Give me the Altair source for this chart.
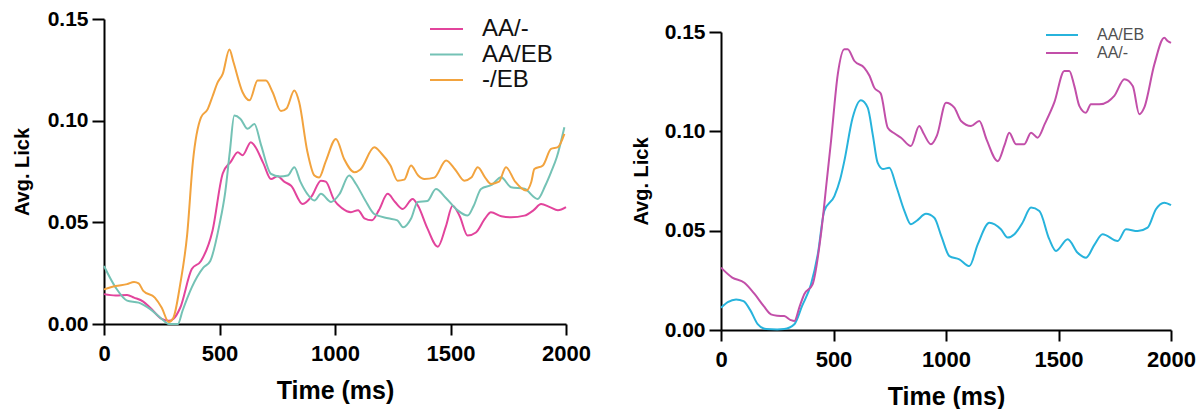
import altair as alt
import pandas as pd

FONT = "Liberation Sans"

# ---------------- Left panel data ----------------
left_names = ["AA/-", "AA/EB", "-/EB"]
left_colors = ["#E2449C", "#74C2B5", "#F2A33E"]

l_aa_t = [0, 50, 100, 130, 170, 200, 250, 280, 300, 330, 380, 420, 470, 514, 550, 579, 600, 636, 650, 690,
          723, 752, 780, 810, 860, 900, 939, 960, 996, 1030, 1069, 1100, 1127, 1160, 1190, 1228, 1260, 1293,
          1336, 1360, 1400, 1445, 1480, 1509, 1540, 1574, 1610, 1650, 1675, 1720, 1762, 1820, 1860, 1892,
          1930, 1965, 2000]
l_aa_v = [0.0147, 0.0140, 0.0143, 0.0130, 0.0110, 0.0080, 0.0025, 0.0016, 0.0025, 0.0080, 0.0270, 0.0310,
          0.0460, 0.0740, 0.0800, 0.0845, 0.0830, 0.0894, 0.0880, 0.0790, 0.0713, 0.0727, 0.0700, 0.0680,
          0.0590, 0.0630, 0.0705, 0.0700, 0.0610, 0.0570, 0.0550, 0.0560, 0.0520, 0.0510, 0.0560, 0.0640,
          0.0600, 0.0566, 0.0615, 0.0580, 0.0470, 0.0380, 0.0480, 0.0582, 0.0530, 0.0435, 0.0450, 0.0520,
          0.0550, 0.0530, 0.0525, 0.0533, 0.0560, 0.0590, 0.0575, 0.0560, 0.0575]

l_aaeb_t = [0, 50, 100, 150, 200, 250, 280, 320, 340, 380, 430, 460, 500, 525, 545, 564, 590, 622, 651, 680,
            723, 760, 795, 824, 850, 880, 911, 939, 983, 1020, 1061, 1090, 1130, 1170, 1230, 1270, 1295, 1330,
            1358, 1400, 1437, 1480, 1530, 1574, 1600, 1632, 1680, 1719, 1762, 1820, 1877, 1910, 1935, 1960,
            1993]
l_aaeb_v = [0.0285, 0.0180, 0.0115, 0.0105, 0.0073, 0.0025, 0.0000, 0.0000, 0.0065, 0.0180, 0.0277, 0.0310,
            0.0490, 0.0650, 0.0850, 0.1025, 0.1010, 0.0960, 0.0984, 0.0880, 0.0738, 0.0725, 0.0730, 0.0771,
            0.0700, 0.0640, 0.0607, 0.0640, 0.0600, 0.0640, 0.0730, 0.0690, 0.0610, 0.0541, 0.0520, 0.0510,
            0.0476, 0.0520, 0.0600, 0.0605, 0.0664, 0.0620, 0.0560, 0.0533, 0.0580, 0.0664, 0.0685, 0.0722,
            0.0673, 0.0665, 0.0615, 0.0680, 0.0746, 0.0820, 0.0968]

l_eb_t = [0, 50, 100, 130, 150, 170, 220, 250, 280, 300, 330, 360, 385, 420, 449, 470, 492, 514, 543, 560,
          600, 630, 665, 701, 730, 766, 790, 824, 845, 880, 911, 931, 960, 1004, 1040, 1084, 1110, 1170, 1200,
          1240, 1271, 1300, 1329, 1360, 1387, 1430, 1481, 1520, 1560, 1590, 1618, 1650, 1675, 1710, 1740,
          1780, 1827, 1850, 1863, 1900, 1935, 1965, 1993]
l_eb_v = [0.0170, 0.0187, 0.0196, 0.0207, 0.0200, 0.0163, 0.0130, 0.0080, 0.0010, 0.0030, 0.0196, 0.0440,
          0.0800, 0.1016, 0.1057, 0.1120, 0.1188, 0.1230, 0.1350, 0.1290, 0.1140, 0.1100, 0.1197, 0.1197,
          0.1140, 0.1047, 0.1060, 0.1148, 0.1090, 0.0850, 0.0730, 0.0720, 0.0800, 0.0910, 0.0810, 0.0746,
          0.0760, 0.0869, 0.0840, 0.0780, 0.0705, 0.0710, 0.0779, 0.0730, 0.0713, 0.0720, 0.0804, 0.0760,
          0.0705, 0.0720, 0.0771, 0.0720, 0.0689, 0.0700, 0.0771, 0.0700, 0.0656, 0.0700, 0.0762, 0.0780,
          0.0861, 0.0870, 0.0935]

# ---------------- Right panel data ----------------
right_names = ["AA/EB", "AA/-"]
right_colors = ["#27B3DC", "#C24FA9"]

r_aaeb_t = [0, 30, 67, 100, 130, 163, 200, 250, 281, 326, 360, 400, 430, 459, 504, 530, 548, 585, 622, 652,
            675, 696, 720, 748, 780, 815, 844, 870, 911, 948, 980, 1015, 1059, 1104, 1141, 1193, 1244, 1274,
            1304, 1340, 1378, 1415, 1459, 1489, 1541, 1585, 1622, 1660, 1696, 1763, 1800, 1852, 1896, 1933,
            1970, 2000]
r_aaeb_v = [0.0112, 0.0140, 0.0154, 0.0145, 0.0100, 0.0030, 0.0005, 0.0003, 0.0005, 0.0029, 0.0120, 0.0230,
            0.0380, 0.0599, 0.0674, 0.0760, 0.0850, 0.1068, 0.1156, 0.1119, 0.0980, 0.0842, 0.0810, 0.0817,
            0.0720, 0.0600, 0.0532, 0.0550, 0.0585, 0.0565, 0.0470, 0.0372, 0.0356, 0.0322, 0.0431, 0.0540,
            0.0507, 0.0465, 0.0482, 0.0540, 0.0616, 0.0599, 0.0457, 0.0398, 0.0457, 0.0389, 0.0364, 0.0430,
            0.0482, 0.0448, 0.0507, 0.0498, 0.0515, 0.0608, 0.0641, 0.0628]

r_aa_t = [0, 50, 104, 150, 190, 222, 250, 281, 310, 326, 350, 370, 407, 444, 470, 489, 519, 548, 563, 593,
          637, 660, 681, 710, 741, 770, 800, 844, 881, 900, 933, 960, 1000, 1037, 1067, 1111, 1148, 1180,
          1230, 1260, 1281, 1311, 1348, 1378, 1407, 1440, 1481, 1526, 1548, 1570, 1593, 1622, 1644, 1681,
          1720, 1748, 1793, 1830, 1859, 1881, 1926, 1970, 1985, 2000]
r_aa_v = [0.0314, 0.0264, 0.0238, 0.0180, 0.0120, 0.0079, 0.0072, 0.0070, 0.0050, 0.0045, 0.0120, 0.0180,
          0.0230, 0.0480, 0.0750, 0.0951, 0.1287, 0.1413, 0.1413, 0.1354, 0.1320, 0.1280, 0.1220, 0.1190,
          0.1018, 0.0990, 0.0968, 0.0926, 0.1027, 0.0990, 0.0935, 0.0980, 0.1144, 0.1119, 0.1052, 0.1027,
          0.1052, 0.0960, 0.0850, 0.0930, 0.0993, 0.0935, 0.0935, 0.0993, 0.0968, 0.1040, 0.1144, 0.1304,
          0.1304, 0.1230, 0.1127, 0.1094, 0.1136, 0.1136, 0.1150, 0.1178, 0.1262, 0.1228, 0.1086, 0.1119,
          0.1337, 0.1471, 0.1455, 0.1445]

x_ticks = [0, 500, 1000, 1500, 2000]
y_ticks = [0.0, 0.05, 0.10, 0.15]


def frame(pairs):
    rows = []
    for name, ts, vs in pairs:
        for t, v in zip(ts, vs):
            rows.append({"series": name, "t": t, "v": v})
    return pd.DataFrame(rows)


left_df = frame([("AA/-", l_aa_t, l_aa_v), ("AA/EB", l_aaeb_t, l_aaeb_v), ("-/EB", l_eb_t, l_eb_v)])
right_df = frame([("AA/EB", r_aaeb_t, r_aaeb_v), ("AA/-", r_aa_t, r_aa_v)])

axis_style = dict(domainColor="black", domainWidth=2, tickColor="black", tickWidth=2, grid=False,
                  labelFont=FONT, labelFontWeight="bold", labelColor="black",
                  titleFont=FONT, titleFontWeight="bold", titleColor="black", labelFlush=False)


def panel(df, names, colors, width, height, y_range, title_x,
          rule_x, rule_x2, text_x, leg_range, leg_font, leg_color):
    color = alt.Color("series:N", scale=alt.Scale(domain=names, range=colors), legend=None)
    if y_range is not None:
        yscale = alt.Scale(domain=[0, 0.15], nice=False, zero=True, range=y_range)
    else:
        yscale = alt.Scale(domain=[0, 0.15], nice=False, zero=True)
    lines = alt.Chart(df).mark_line(strokeWidth=2, interpolate="monotone").encode(
        x=alt.X("t:Q", scale=alt.Scale(domain=[0, 2000], nice=False),
                axis=alt.Axis(values=x_ticks, format="d", title="Time (ms)", tickSize=11,
                              labelFontSize=22, labelPadding=8, titleFontSize=25,
                              titleBaseline="alphabetic", titleY=74, **axis_style)),
        y=alt.Y("v:Q", scale=yscale,
                axis=alt.Axis(values=y_ticks, format=".2f", title="Avg. Lick", tickSize=12,
                              labelFontSize=21, labelPadding=4, titleFontSize=20,
                              titleBaseline="middle", titleX=title_x, **axis_style)),
        color=color,
        order="t:Q",
    )
    leg_df = pd.DataFrame({"series": names})
    leg_y = alt.Y("series:N", scale=alt.Scale(type="point", domain=names, range=leg_range, padding=0),
                  axis=None)
    rules = alt.Chart(leg_df).mark_rule(strokeWidth=2).encode(
        x=alt.value(rule_x), x2=alt.value(rule_x2), y=leg_y, color=color)
    texts = alt.Chart(leg_df).mark_text(align="left", baseline="middle", fontSize=leg_font,
                                        font=FONT, color=leg_color).encode(
        x=alt.value(text_x), y=leg_y, text="series:N")
    return alt.layer(lines, rules, texts).resolve_scale(y="independent").properties(
        width=width, height=height)


left = panel(left_df, left_names, left_colors, 462, 305, None, -82,
             326, 359, 378, [10, 61], 24, "#111111")
right = panel(right_df, right_names, right_colors, 450, 311, [311, 13], -80,
              325, 357, 376, [16, 34], 16, "#505050")

chart = alt.hconcat(left, right, spacing=155, bounds="flush").resolve_scale(
    color="independent"
).properties(
    padding={"left": 12, "top": 8, "right": 0, "bottom": 0},
    background="white",
).configure_view(stroke=None).configure_axis(**axis_style)

chart.save("out.html", embed_options={"renderer": "svg", "actions": False})
